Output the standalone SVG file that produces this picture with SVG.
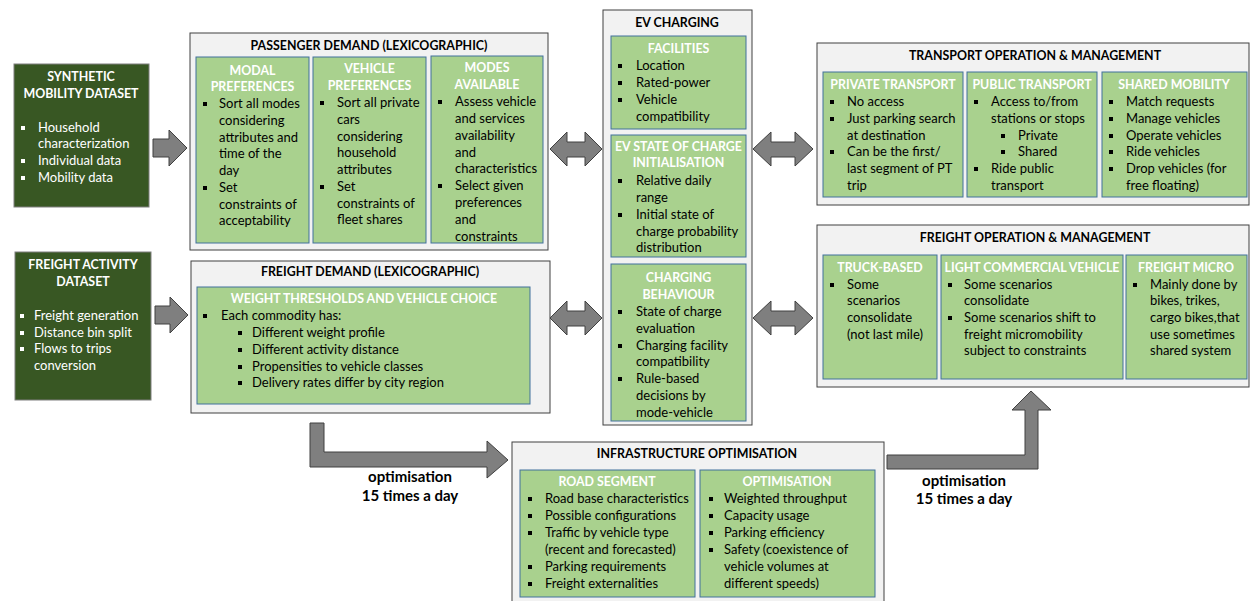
<svg xmlns="http://www.w3.org/2000/svg" xmlns:xlink="http://www.w3.org/1999/xlink" width="1250" height="601" viewBox="0 0 1250 601">
<style>
.outer{fill:#f2f2f2;stroke:#404040;stroke-width:1}
.inner{fill:#a9d18e;stroke:#41719c;stroke-width:1}
.dark{fill:#385723;stroke:#7f7f7f;stroke-width:1}
.arrow{fill:#7f7f7f;stroke:#404040;stroke-width:1}
text{font-family:Lato,"Open Sans","Liberation Sans",sans-serif;font-size:13px;fill:#000}
.h{font-weight:bold;text-anchor:middle;font-size:12.4px}
.w{font-weight:bold;text-anchor:middle;fill:#fff;font-size:12.4px}
.wt{fill:#fff}
.lbl{font-weight:bold;text-anchor:middle;font-size:15px}
</style>
<defs>
<rect id="b" x="-2" y="-6" width="4" height="4" fill="#000"/>
<rect id="bw" x="-2" y="-6" width="4" height="4" fill="#fff"/>
</defs>

<g id="connectors">
<polygon class="arrow" points="153,139 169,139 169,130 187,148 169,166 169,157 153,157"/>
<polygon class="arrow" points="155,306 170,306 170,297 188,315 170,333 170,324 155,324"/>
<polygon class="arrow" points="550,149 567,132 567,142 585,142 585,132 602,149 585,166 585,157 567,157 567,166"/>
<polygon class="arrow" points="550,318 567,301 567,311 585,311 585,301 602,318 585,335 585,326 567,326 567,335"/>
<polygon class="arrow" points="753,149 771,132 771,142 795,142 795,132 813,149 795,166 795,157 771,157 771,166"/>
<polygon class="arrow" points="753,318 771,301 771,311 795,311 795,301 813,318 795,335 795,326 771,326 771,335"/>
<polygon class="arrow" points="310,423 324,423 324,452 487,452 487,441 508,460 487,478 487,467 310,467"/>
<polygon class="arrow" points="887,455 1025,455 1025,410 1012,410 1031,391 1051,410 1038,410 1038,469 887,469"/>
<text class="lbl" x="410" y="482">optimisation</text>
<text class="lbl" x="410" y="501">15 times a day</text>
<text class="lbl" x="964" y="486">optimisation</text>
<text class="lbl" x="964" y="504">15 times a day</text>
</g>

<g id="synthetic">
<rect class="dark" x="14" y="64" width="135" height="143"/>
<text class="w" x="81" y="81">SYNTHETIC</text>
<text class="w" x="81" y="98">MOBILITY DATASET</text>
<use href="#bw" x="23" y="132"/><text class="wt" x="38" y="132">Household</text>
<text class="wt" x="38" y="148">characterization</text>
<use href="#bw" x="23" y="165"/><text class="wt" x="38" y="165">Individual data</text>
<use href="#bw" x="23" y="182"/><text class="wt" x="38" y="182">Mobility data</text>
</g>

<g id="freight-activity">
<rect class="dark" x="15" y="252" width="136" height="148"/>
<text class="w" x="83" y="269">FREIGHT ACTIVITY</text>
<text class="w" x="83" y="286">DATASET</text>
<use href="#bw" x="22" y="320"/><text class="wt" x="34" y="320">Freight generation</text>
<use href="#bw" x="22" y="337"/><text class="wt" x="34" y="337">Distance bin split</text>
<use href="#bw" x="22" y="353"/><text class="wt" x="34" y="353">Flows to trips</text>
<text class="wt" x="34" y="370">conversion</text>
</g>

<g id="passenger-demand">
<rect class="outer" x="190" y="33" width="358" height="217"/>
<text class="h" x="369" y="50">PASSENGER DEMAND (LEXICOGRAPHIC)</text>
<rect class="inner" x="196" y="57" width="113" height="186"/>
<text class="w" x="252.5" y="75">MODAL</text>
<text class="w" x="252.5" y="91">PREFERENCES</text>
<use href="#b" x="205" y="108"/><text x="219" y="108">Sort all modes</text>
<text x="219" y="125">considering</text>
<text x="219" y="142">attributes and</text>
<text x="219" y="158">time of the</text>
<text x="219" y="175">day</text>
<use href="#b" x="205" y="192"/><text x="219" y="192">Set</text>
<text x="219" y="209">constraints of</text>
<text x="219" y="225">acceptability</text>
<rect class="inner" x="313" y="57" width="113" height="186"/>
<text class="w" x="369.5" y="73">VEHICLE</text>
<text class="w" x="369.5" y="90">PREFERENCES</text>
<use href="#b" x="322" y="107"/><text x="337" y="107">Sort all private</text>
<text x="337" y="124">cars</text>
<text x="337" y="141">considering</text>
<text x="337" y="157">household</text>
<text x="337" y="174">attributes</text>
<use href="#b" x="322" y="191"/><text x="337" y="191">Set</text>
<text x="337" y="208">constraints of</text>
<text x="337" y="224">fleet shares</text>
<rect class="inner" x="431" y="56" width="112" height="187"/>
<text class="w" x="487" y="72">MODES</text>
<text class="w" x="487" y="89">AVAILABLE</text>
<use href="#b" x="440" y="106"/><text x="455" y="106">Assess vehicle</text>
<text x="455" y="123">and services</text>
<text x="455" y="140">availability</text>
<text x="455" y="157">and</text>
<text x="455" y="173">characteristics</text>
<use href="#b" x="440" y="190"/><text x="455" y="190">Select given</text>
<text x="455" y="207">preferences</text>
<text x="455" y="224">and</text>
<text x="455" y="241">constraints</text>
</g>

<g id="freight-demand">
<rect class="outer" x="191" y="261" width="359" height="152"/>
<text class="h" x="370" y="276">FREIGHT DEMAND (LEXICOGRAPHIC)</text>
<rect class="inner" x="197" y="287" width="333" height="117"/>
<text class="w" x="364" y="303">WEIGHT THRESHOLDS AND VEHICLE CHOICE</text>
<use href="#b" x="205" y="320"/><text x="221" y="320">Each commodity has:</text>
<use href="#b" x="240" y="337"/><text x="252" y="337">Different weight profile</text>
<use href="#b" x="240" y="354"/><text x="252" y="354">Different activity distance</text>
<use href="#b" x="240" y="371"/><text x="252" y="371">Propensities to vehicle classes</text>
<use href="#b" x="240" y="387"/><text x="252" y="387">Delivery rates differ by city region</text>
</g>

<g id="ev-charging">
<rect class="outer" x="603" y="10" width="149" height="415"/>
<text class="h" x="677" y="27">EV CHARGING</text>
<rect class="inner" x="611" y="36" width="135" height="93"/>
<text class="w" x="678.5" y="53">FACILITIES</text>
<use href="#b" x="620" y="70"/><text x="636" y="70">Location</text>
<use href="#b" x="620" y="87"/><text x="636" y="87">Rated-power</text>
<use href="#b" x="620" y="104"/><text x="636" y="104">Vehicle</text>
<text x="636" y="121">compatibility</text>
<rect class="inner" x="611" y="135" width="135" height="122"/>
<text class="w" x="678.5" y="151">EV STATE OF CHARGE</text>
<text class="w" x="678.5" y="167">INITIALISATION</text>
<use href="#b" x="620" y="185"/><text x="636" y="185">Relative daily</text>
<text x="636" y="202">range</text>
<use href="#b" x="620" y="219"/><text x="636" y="219">Initial state of</text>
<text x="636" y="236">charge probability</text>
<text x="636" y="252">distribution</text>
<rect class="inner" x="611" y="264" width="135" height="157"/>
<text class="w" x="678.5" y="282">CHARGING</text>
<text class="w" x="678.5" y="299">BEHAVIOUR</text>
<use href="#b" x="620" y="316"/><text x="636" y="316">State of charge</text>
<text x="636" y="333">evaluation</text>
<use href="#b" x="620" y="350"/><text x="636" y="350">Charging facility</text>
<text x="636" y="366">compatibility</text>
<use href="#b" x="620" y="383"/><text x="636" y="383">Rule-based</text>
<text x="636" y="400">decisions by</text>
<text x="636" y="417">mode-vehicle</text>
</g>

<g id="transport-operation">
<rect class="outer" x="817" y="43" width="432" height="162"/>
<text class="h" x="1035" y="60">TRANSPORT OPERATION &amp; MANAGEMENT</text>
<rect class="inner" x="823" y="72" width="140" height="125"/>
<text class="w" x="893" y="89">PRIVATE TRANSPORT</text>
<use href="#b" x="832" y="106"/><text x="847" y="106">No access</text>
<use href="#b" x="832" y="123"/><text x="847" y="123">Just parking search</text>
<text x="847" y="140">at destination</text>
<use href="#b" x="832" y="156"/><text x="847" y="156">Can be the first/</text>
<text x="847" y="173">last segment of PT</text>
<text x="847" y="190">trip</text>
<rect class="inner" x="967" y="72" width="130" height="125"/>
<text class="w" x="1032" y="89">PUBLIC TRANSPORT</text>
<use href="#b" x="976" y="106"/><text x="991" y="106">Access to/from</text>
<text x="991" y="123">stations or stops</text>
<use href="#b" x="1003" y="140"/><text x="1018" y="140">Private</text>
<use href="#b" x="1003" y="156"/><text x="1018" y="156">Shared</text>
<use href="#b" x="976" y="173"/><text x="991" y="173">Ride public</text>
<text x="991" y="190">transport</text>
<rect class="inner" x="1102" y="72" width="145" height="125"/>
<text class="w" x="1174" y="89">SHARED MOBILITY</text>
<use href="#b" x="1111" y="106"/><text x="1126" y="106">Match requests</text>
<use href="#b" x="1111" y="123"/><text x="1126" y="123">Manage vehicles</text>
<use href="#b" x="1111" y="140"/><text x="1126" y="140">Operate vehicles</text>
<use href="#b" x="1111" y="156"/><text x="1126" y="156">Ride vehicles</text>
<use href="#b" x="1111" y="173"/><text x="1126" y="173">Drop vehicles (for</text>
<text x="1126" y="190">free floating)</text>
</g>

<g id="freight-operation">
<rect class="outer" x="817" y="225" width="432" height="162"/>
<text class="h" x="1035" y="242">FREIGHT OPERATION &amp; MANAGEMENT</text>
<rect class="inner" x="823" y="255" width="114" height="124"/>
<text class="w" x="880" y="272">TRUCK-BASED</text>
<use href="#b" x="832" y="289"/><text x="847" y="289">Some</text>
<text x="847" y="305">scenarios</text>
<text x="847" y="322">consolidate</text>
<text x="847" y="339">(not last mile)</text>
<rect class="inner" x="941" y="255" width="182" height="124"/>
<text class="w" x="1032" y="272">LIGHT COMMERCIAL VEHICLE</text>
<use href="#b" x="950" y="289"/><text x="964" y="289">Some scenarios</text>
<text x="964" y="305">consolidate</text>
<use href="#b" x="950" y="322"/><text x="964" y="322">Some scenarios shift to</text>
<text x="964" y="339">freight micromobility</text>
<text x="964" y="355">subject to constraints</text>
<rect class="inner" x="1126" y="255" width="121" height="124"/>
<text class="w" x="1186" y="272">FREIGHT MICRO</text>
<use href="#b" x="1135" y="289"/><text x="1150" y="289">Mainly done by</text>
<text x="1150" y="305">bikes, trikes,</text>
<text x="1150" y="322">cargo bikes,that</text>
<text x="1150" y="339">use sometimes</text>
<text x="1150" y="355">shared system</text>
</g>

<g id="infrastructure-optimisation">
<rect class="outer" x="512" y="442" width="372" height="165"/>
<text class="h" x="697" y="458">INFRASTRUCTURE OPTIMISATION</text>
<rect class="inner" x="520" y="470" width="175" height="127"/>
<text class="w" x="607" y="486">ROAD SEGMENT</text>
<use href="#b" x="530" y="503"/><text x="545" y="503">Road base characteristics</text>
<use href="#b" x="530" y="520"/><text x="545" y="520">Possible configurations</text>
<use href="#b" x="530" y="537"/><text x="545" y="537">Traffic by vehicle type</text>
<text x="545" y="554">(recent and forecasted)</text>
<use href="#b" x="530" y="571"/><text x="545" y="571">Parking requirements</text>
<use href="#b" x="530" y="588"/><text x="545" y="588">Freight externalities</text>
<rect class="inner" x="700" y="470" width="175" height="127"/>
<text class="w" x="787" y="486">OPTIMISATION</text>
<use href="#b" x="711" y="503"/><text x="724" y="503">Weighted throughput</text>
<use href="#b" x="711" y="520"/><text x="724" y="520">Capacity usage</text>
<use href="#b" x="711" y="537"/><text x="724" y="537">Parking efficiency</text>
<use href="#b" x="711" y="554"/><text x="724" y="554">Safety (coexistence of</text>
<text x="724" y="571">vehicle volumes at</text>
<text x="724" y="588">different speeds)</text>
</g>
</svg>
